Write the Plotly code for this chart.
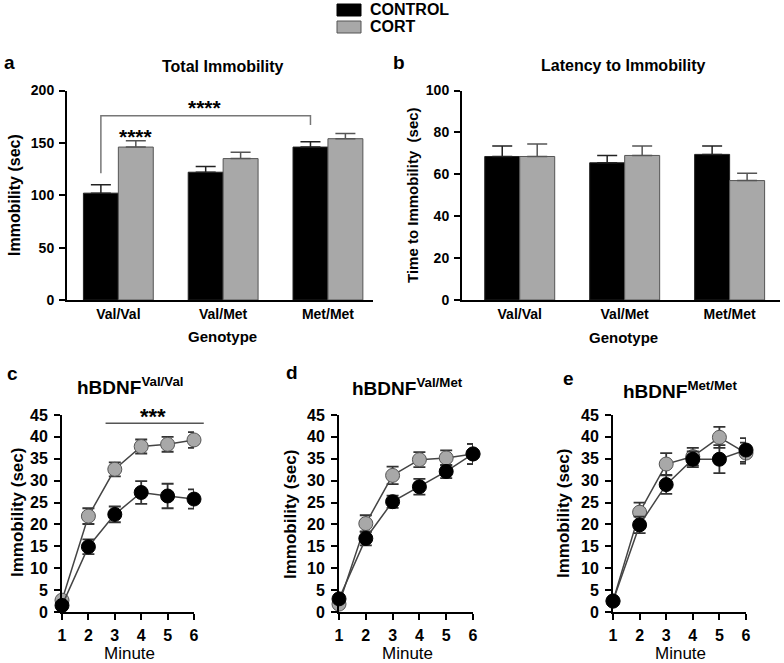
import plotly.graph_objects as go

W, H = 784, 663

# ---------------- data ----------------
genotypes = ["Val/Val", "Val/Met", "Met/Met"]
total_ctrl = [102, 122, 146]
total_ctrl_err = [8, 5.5, 5]
total_cort = [146, 135, 154]
total_cort_err = [6, 6, 5]

lat_ctrl = [68.5, 65.5, 69.5]
lat_ctrl_err = [5, 3.5, 4]
lat_cort = [68.5, 69, 57]
lat_cort_err = [6, 4.5, 3.5]

minutes = [1, 2, 3, 4, 5, 6]
c_ctrl = [1.5, 14.9, 22.3, 27.3, 26.5, 25.8]
c_ctrl_err = [0.6, 1.7, 1.8, 2.6, 2.8, 2.2]
c_cort = [2.7, 21.9, 32.6, 37.8, 38.3, 39.3]
c_cort_err = [0.6, 1.8, 1.6, 1.6, 1.7, 1.8]

d_ctrl = [3.0, 16.8, 25.2, 28.6, 32.1, 36.1]
d_ctrl_err = [0.8, 1.6, 1.4, 1.8, 1.5, 2.3]
d_cort = [1.8, 20.2, 31.2, 34.8, 35.2, 36.1]
d_cort_err = [0.6, 1.9, 2.0, 1.7, 1.7, 2.3]

e_ctrl = [2.5, 19.9, 29.1, 34.9, 34.9, 37.0]
e_ctrl_err = [0.6, 1.9, 2.1, 1.8, 3.2, 2.7]
e_cort = [2.5, 22.8, 33.8, 35.5, 39.9, 36.3]
e_cort_err = [0.5, 2.2, 2.5, 2.0, 2.4, 2.4]

legend_labels = ["CONTROL", "CORT"]
y_ticks_a = [0, 50, 100, 150, 200]
y_ticks_b = [0, 20, 40, 60, 80, 100]
y_ticks_line = [0, 5, 10, 15, 20, 25, 30, 35, 40, 45]

# ---------------- style ----------------
FONT = "Liberation Sans, Arial, sans-serif"
BLACK = "#000000"
GRAY = "#a8a8a8"
EDGE = "#555555"
ERR = "#333333"


def px(x):
    return x / W


def py(y):
    return 1 - y / H


fig = go.Figure()


def add_bars(xa, ya, ctrl, ctrl_err, cort, cort_err):
    fig.add_trace(go.Bar(
        x=genotypes, y=ctrl, name=legend_labels[0], xaxis=xa, yaxis=ya,
        marker=dict(color=BLACK, line=dict(color="#222222", width=1)),
        error_y=dict(type="data", array=ctrl_err, arrayminus=[0] * 3, symmetric=False,
                     color="#222222", thickness=1.5, width=10),
        showlegend=False))
    fig.add_trace(go.Bar(
        x=genotypes, y=cort, name=legend_labels[1], xaxis=xa, yaxis=ya,
        marker=dict(color=GRAY, line=dict(color=EDGE, width=1)),
        error_y=dict(type="data", array=cort_err, arrayminus=[0] * 3, symmetric=False,
                     color=EDGE, thickness=1.5, width=10),
        showlegend=False))


add_bars("x", "y", total_ctrl, total_ctrl_err, total_cort, total_cort_err)
add_bars("x2", "y2", lat_ctrl, lat_ctrl_err, lat_cort, lat_cort_err)


def add_lines(xa, ya, ctrl, ctrl_err, cort, cort_err):
    fig.add_trace(go.Scatter(
        x=minutes, y=cort, xaxis=xa, yaxis=ya, mode="lines+markers", name=legend_labels[1],
        line=dict(color="#444444", width=1.5),
        marker=dict(size=14, color=GRAY, line=dict(color=EDGE, width=1)),
        error_y=dict(type="data", array=cort_err, color=ERR, thickness=1.8, width=6),
        cliponaxis=False, showlegend=False))
    fig.add_trace(go.Scatter(
        x=minutes, y=ctrl, xaxis=xa, yaxis=ya, mode="lines+markers", name=legend_labels[0],
        line=dict(color="#444444", width=1.5),
        marker=dict(size=14, color=BLACK, line=dict(color=BLACK, width=1)),
        error_y=dict(type="data", array=ctrl_err, color=ERR, thickness=1.8, width=6),
        cliponaxis=False, showlegend=False))


add_lines("x3", "y3", c_ctrl, c_ctrl_err, c_cort, c_cort_err)
add_lines("x4", "y4", d_ctrl, d_ctrl_err, d_cort, d_cort_err)
add_lines("x5", "y5", e_ctrl, e_ctrl_err, e_cort, e_cort_err)

tickfont_bar = dict(family=FONT, size=14, color="black", weight="bold")
tickfont_line = dict(family=FONT, size=16, color="black", weight="bold")

common = dict(showline=True, linecolor="black", linewidth=2, showgrid=False,
              zeroline=False, automargin=False, fixedrange=True)
bar_x = dict(common, type="category", ticks="", tickfont=tickfont_bar,
             ticklabelstandoff=0)
bar_y = dict(common, ticks="outside", ticklen=6, tickwidth=2, tickcolor="black",
             tickfont=tickfont_bar, ticklabelstandoff=2)
line_x = dict(common, ticks="outside", ticklen=6, tickwidth=2, tickcolor="black",
              tickfont=tickfont_line, range=[1, 6], tickvals=minutes,
              ticklabelstandoff=2)
line_y = dict(common, ticks="outside", ticklen=6, tickwidth=2, tickcolor="black",
              tickfont=tickfont_line, range=[0, 45], tickvals=y_ticks_line,
              ticklabelstandoff=3)

ydom_top = [py(300), py(90.5)]
ydom_bot = [py(612), py(415)]

fig.update_layout(
    template="none",
    width=W, height=H, margin=dict(l=0, r=0, t=0, b=0, pad=0, autoexpand=False),
    paper_bgcolor="white", plot_bgcolor="white",
    barmode="group", bargap=1 / 3, bargroupgap=0, showlegend=False,
    font=dict(family=FONT, color="black"),
    xaxis=dict(bar_x, domain=[px(67), px(373)], range=[-0.49, 2.43], anchor="y"),
    yaxis=dict(bar_y, domain=ydom_top, range=[0, 200], tickvals=y_ticks_a, anchor="x"),
    xaxis2=dict(bar_x, domain=[px(462), px(780)], range=[-0.55, 2.48], anchor="y2"),
    yaxis2=dict(bar_y, domain=ydom_top, range=[0, 100], tickvals=y_ticks_b, anchor="x2"),
    xaxis3=dict(line_x, domain=[px(62), px(194)], anchor="y3"),
    yaxis3=dict(line_y, domain=ydom_bot, anchor="x3"),
    xaxis4=dict(line_x, domain=[px(339), px(473)], anchor="y4"),
    yaxis4=dict(line_y, domain=ydom_bot, anchor="x4"),
    xaxis5=dict(line_x, domain=[px(613), px(746)], anchor="y5"),
    yaxis5=dict(line_y, domain=ydom_bot, anchor="x5"),
)

ann = []


def text(x, y, s, size, bold=True, angle=0, xanchor="center", yanchor="middle",
         xref="paper", yref="paper"):
    ann.append(dict(x=x, y=y, xref=xref, yref=yref, text=s, showarrow=False,
                    textangle=angle, xanchor=xanchor, yanchor=yanchor,
                    font=dict(family=FONT, size=size, color="black",
                              weight="bold" if bold else "normal")))


# panel letters
text(px(9), py(62), "a", 19)
text(px(399), py(62), "b", 19)
text(px(12), py(373), "c", 19)
text(px(292), py(372), "d", 19)
text(px(568), py(378), "e", 19)

# panel titles
text(px(223), py(67), "Total Immobility", 16)
text(px(623), py(66), "Latency to Immobility", 16)
text(px(130), py(386), "hBDNF<sup>Val/Val</sup>", 19)
text(px(407), py(387), "hBDNF<sup>Val/Met</sup>", 19)
text(px(680), py(390), "hBDNF<sup>Met/Met</sup>", 19)

# axis titles
text(px(222), py(336), "Genotype", 15)
text(px(623), py(337), "Genotype", 15)
text(px(14), py(195), "Immobility (sec)", 16, angle=-90)
text(px(412), py(195), "Time to Immobility  (sec)", 15, angle=-90)
text(px(17), py(513), "Immobility (sec)", 17, angle=-90)
text(px(290), py(515), "Immobility (sec)", 17, angle=-90)
text(px(563), py(514), "Immobility (sec)", 17, angle=-90)
text(px(129), py(653), "Minute", 17, bold=False)
text(px(407), py(653), "Minute", 17, bold=False)
text(px(680), py(653), "Minute", 17, bold=False)

# significance marks
text(0.83, 170.5, "****", 21, xref="x", yref="y", yanchor="bottom")
text(1 / 6, 143.5, "****", 21, xref="x", yref="y", yanchor="bottom")
text(4.45, 41.4, "***", 22, xref="x3", yref="y3", yanchor="bottom")

# legend labels
text(px(368), py(10), legend_labels[0], 16, xanchor="left")
text(px(368), py(27), legend_labels[1], 16, xanchor="left")

fig.update_layout(annotations=ann)

shapes = []
# legend swatches
shapes.append(dict(type="rect", xref="paper", yref="paper", x0=px(337), x1=px(361),
                   y0=py(16), y1=py(4), fillcolor=BLACK, line=dict(color=BLACK, width=1)))
shapes.append(dict(type="rect", xref="paper", yref="paper", x0=px(337), x1=px(361),
                   y0=py(33), y1=py(21), fillcolor=GRAY, line=dict(color=EDGE, width=1)))

# bracket in panel a (between Val/Val control and Met/Met control bars)
br_y, br_left, br_right = 176, 121, 167
ctrl_off = -1 / 6
shapes.append(dict(type="path", xref="x", yref="y",
                   path=f"M {0 + ctrl_off},{br_left} L {0 + ctrl_off},{br_y} "
                        f"L {2 + ctrl_off},{br_y} L {2 + ctrl_off},{br_right}",
                   line=dict(color="#777777", width=1.5)))

# significance line in panel c (x from 2.65 to 6.37 minute, y = 43.1)
sx0, sx1, sy = 2.65, 6.37, 43.1
shapes.append(dict(type="line", xref="x3 domain", yref="y3 domain",
                   x0=(sx0 - 1) / 5, x1=(sx1 - 1) / 5, y0=sy / 45, y1=sy / 45,
                   line=dict(color="#555555", width=1.5)))

fig.update_layout(shapes=shapes)

fig.write_html(
    "out.html",
    config={"displayModeBar": False},
    post_script="document.body.style.margin='0';document.body.style.padding='0';"
                "document.documentElement.style.overflow='hidden';",
)
